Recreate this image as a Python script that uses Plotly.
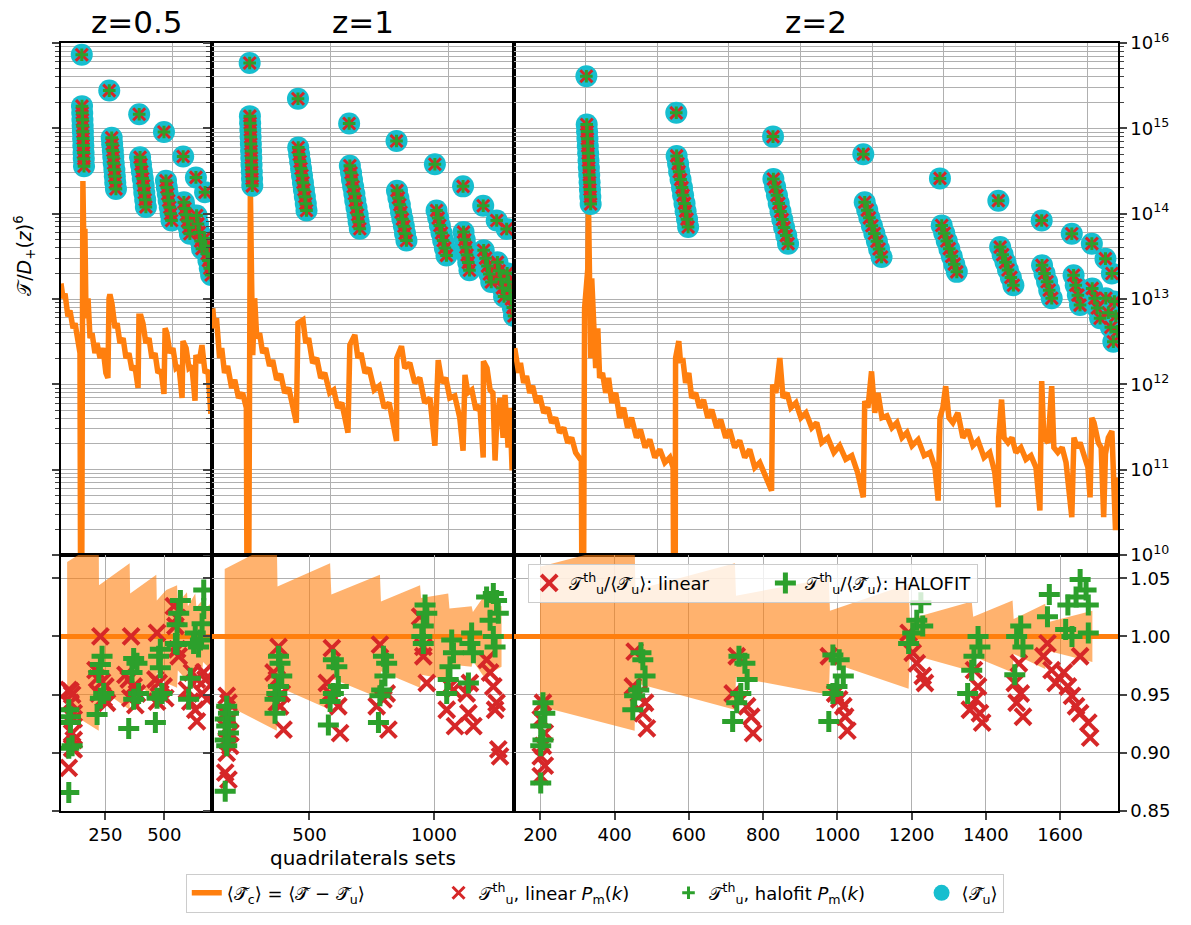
import plotly.graph_objects as go

ORANGE = '#ff7f0e'; RED = '#d62728'; GREEN = '#2ca02c'; CYAN = '#17becf'
GRID = '#b0b0b0'
FONT = 'DejaVu Sans, Noto Sans, sans-serif'

# ---------------- top row: <T_c> (orange line) ----------------
tc_x_05 = [0, 9, 18, 31, 40, 54, 63, 76, 85, 90, 94, 98, 103, 107, 112, 121, 130, 139, 152, 161, 175, 188, 201, 210,
           215, 219, 228, 242, 251, 264, 278, 291, 304, 318, 331, 345, 349, 358, 367, 380, 394, 407, 421, 434, 448, 461,
           466, 474, 488, 501, 515, 528, 542, 546, 560, 573, 586, 600, 604, 618, 631, 645, 658, 671]
tc_y_05 = [1.52e13, 1.02e13, 1.16e13, 6.27e12, 7.36e12, 4.54e12, 5.20e12, 3.04e12, 2.32e12, 1e7, 1.02e13, 2.41e14,
           2.97e13, 6.65e13, 5.94e12, 1.02e13, 3.47e12, 3.97e12, 2.32e12, 3.04e12, 2.03e12, 2.66e12, 1.36e12, 1.19e12,
           1.02e13, 1.13e13, 8.89e12, 4.54e12, 5.20e12, 3.04e12, 3.47e12, 2.03e12, 2.32e12, 1.47e12, 1.64e12, 9.08e11,
           6.27e12, 6.27e12, 5.20e12, 3.04e12, 3.47e12, 2.03e12, 2.32e12, 1.36e12, 1.47e12, 7.73e11,
           4.54e12, 3.97e12, 2.32e12, 2.66e12, 1.55e12, 1.64e12, 6.94e11, 3.21e12, 2.66e12, 1.55e12, 1.64e12, 6.41e11,
           2.20e12, 1.78e12, 2.88e12, 1.36e12, 1.47e12, 4.52e11]

tc_x_1 = [3, 11, 19, 32, 41, 53, 66, 83, 96, 112, 129, 145, 151, 159, 162, 167, 172, 180, 189, 201, 214, 227, 243, 256,
          273, 290, 307, 324, 341, 356, 363, 384, 396, 408, 425, 442, 459, 476, 497, 514, 531, 548, 574, 582, 603, 616,
          629, 646, 663, 685, 706, 727, 748, 779, 780, 800, 814, 835, 856, 877, 898, 920, 941, 948, 955, 971, 987, 1004,
          1025, 1046, 1060, 1068, 1080, 1097, 1114, 1131, 1145, 1146, 1161, 1174, 1186, 1195, 1203, 1216, 1229, 1237,
          1250, 1258, 1267]
tc_y_1 = [7.77e12, 4.54e12, 5.94e12, 2.03e12, 2.66e12, 1.36e12, 1.64e12, 9.08e11, 1.13e12, 6.94e11, 7.94e11, 5.31e11,
          1e7, 1.02e13, 1.95e14, 1.74e13, 2.20e12, 1.02e13, 3.47e12, 3.97e12, 2.32e12, 2.66e12, 1.64e12, 1.92e12,
          1.13e12, 1.32e12, 7.94e11, 9.08e11, 5.31e11, 3.55e11, 5.20e12, 5.68e12, 3.04e12, 3.47e12, 1.78e12, 2.03e12,
          1.19e12, 1.36e12, 7.94e11, 8.61e11, 5.31e11, 6.07e11, 2.72e11, 2.90e12, 3.80e12, 2.03e12,
          2.32e12, 1.36e12, 1.55e12, 8.61e11, 9.58e11, 5.31e11, 6.07e11, 2.17e11, 2.03e12, 2.80e12, 1.55e12, 1.78e12,
          1.04e12, 1.19e12, 6.07e11, 6.94e11, 1.91e11, 1.29e12, 1.92e12, 1.04e12, 1.19e12, 6.94e11,
          7.32e11, 4.06e11, 1.67e11, 1.29e12, 7.94e11, 8.61e11, 5.03e11, 5.60e11, 1.39e11, 1.87e12, 1.55e12, 8.61e11,
          7.94e11, 1.28e11, 4.06e11, 6.94e11, 2.37e11, 7.53e11, 1.82e11, 5.31e11, 9.79e10]

tc_x_2 = [2, 7, 13, 18, 27, 35, 44, 52, 63, 72, 83, 94, 105, 116, 127, 139, 150, 161, 172, 188, 192, 197, 200, 206, 208,
          211, 214, 217, 222, 228, 234, 239, 247, 256, 264, 273, 284, 295, 306, 317, 328, 342, 353, 366, 379, 393, 407,
          421, 435, 444, 449, 451, 460, 465, 471, 479, 488, 496, 507, 518, 529, 541, 552, 566, 577, 591, 602, 616, 630,
          644, 658, 672, 686, 700, 719, 722, 731, 742, 751, 762, 773, 787, 801, 815, 831, 845, 859, 876, 893, 909, 926,
          943, 959, 975, 979, 988, 998, 1007, 1016, 1027, 1041, 1055, 1069, 1083, 1097, 1111, 1128, 1145, 1161, 1175,
          1184, 1189, 1197, 1205, 1214, 1225, 1239, 1253, 1267, 1281, 1295, 1312, 1328, 1342, 1352, 1353, 1361, 1368,
          1379, 1390, 1401, 1415, 1429, 1443, 1457, 1468, 1473, 1479, 1491, 1501, 1507, 1518, 1530, 1541, 1557, 1563,
          1572, 1580, 1591, 1602, 1608, 1613, 1619, 1631, 1639, 1646, 1651, 1659, 1669, 1673, 1679, 1685]
tc_y_2 = [2.66e12, 2.03e12, 1.36e12, 1.78e12, 1.04e12, 1.25e12, 7.94e11, 9.58e11, 6.07e11, 7.32e11, 4.64e11, 5.31e11,
          3.55e11, 4.06e11, 2.72e11, 3.10e11, 2.07e11, 2.37e11, 1.59e11, 1.27e11, 1e7, 7.77e12, 1.02e13, 2.27e13,
          1.24e14, 1.02e13, 2.03e12, 1.74e13, 4.54e12, 1.55e12, 4.54e12, 1.19e12, 1.36e12, 7.94e11, 1.19e12, 6.07e11,
          7.94e11, 4.06e11, 5.31e11, 3.10e11, 4.06e11, 2.37e11, 2.94e11, 1.82e11, 2.25e11, 1.39e11, 1.72e11, 1.21e11,
          1.39e11, 1.06e11, 1e7, 2.03e12, 3.21e12, 1.78e12, 2.03e12, 1.04e12, 1.36e12, 6.94e11, 7.94e11, 5.31e11,
          6.58e11, 4.06e11, 5.03e11, 3.10e11, 3.85e11, 2.37e11, 2.94e11, 1.82e11, 2.19e11, 1.39e11, 1.72e11, 1.06e11,
          1.21e11, 8.56e10, 5.67e10, 9.92e11, 7.94e11, 2.03e12, 6.94e11, 7.94e11, 5.31e11, 6.07e11, 4.06e11, 4.64e11,
          3.10e11, 3.55e11, 2.07e11, 2.37e11, 1.59e11, 1.91e11, 1.32e11, 1.46e11, 9.28e10, 4.74e10, 6.35e11, 5.31e11,
          1.42e12, 4.64e11, 7.94e11, 4.06e11, 4.28e11, 3.10e11, 3.55e11, 2.37e11, 2.72e11, 1.91e11, 2.25e11, 1.46e11,
          1.59e11, 1.06e11, 4.34e10, 4.06e11, 5.31e11, 9.51e11, 4.06e11, 3.55e11, 4.64e11, 2.37e11, 2.94e11, 1.91e11,
          2.19e11, 1.39e11, 1.59e11, 9.28e10, 3.62e10, 2.37e11, 6.63e11, 2.37e11, 2.07e11, 2.37e11, 1.59e11, 1.82e11,
          1.32e11, 1.46e11, 1.06e11, 3.32e10, 1.09e12, 2.37e11, 2.07e11, 9.51e11, 1.82e11, 1.59e11, 1.82e11, 1.21e11,
          2.77e10, 2.37e11, 1.82e11, 2.07e11, 1.39e11, 1.06e11, 4.74e10, 4.06e11, 3.55e11, 2.07e11, 1.82e11, 2.77e10,
          1.52e11, 2.37e11, 2.84e11, 1.06e11, 1.96e10, 8.11e10]

# ---------------- top row: <T_u> (cyan), theory linear (red x), halofit (green +) ----------------
tu_x_05 = [93, 94, 95, 96, 97, 98, 99, 100, 101, 102, 103, 216, 227, 229, 232, 234, 236, 239, 241, 243, 246,
           350, 354, 358, 362, 366, 370, 373, 377, 380, 461, 470, 474, 478, 482, 487, 491, 495,
           547, 550, 555, 561, 566, 572, 577, 604, 607, 613, 619, 625, 631, 645, 642, 648, 654, 660, 666, 672]
tu_y_05 = [7.28e15, 1.82e15, 1.51e15, 1.26e15, 1.07e15, 9.1e14, 7.6e14, 6.3e14, 5.2e14, 4.4e14, 3.6e14,
           2.77e15, 7.76e14, 6.53e14, 5.50e14, 4.62e14, 3.89e14, 3.27e14, 2.75e14, 2.32e14, 1.95e14,
           1.46e15, 4.57e14, 3.78e14, 3.12e14, 2.58e14, 2.13e14, 1.76e14, 1.46e14, 1.20e14,
           9.06e14, 2.43e14, 2.03e14, 1.70e14, 1.42e14, 1.19e14, 9.95e13, 8.32e13,
           4.68e14, 1.36e14, 1.15e14, 9.68e13, 8.18e13, 6.90e13, 5.82e13,
           2.66e14, 9.51e13, 7.59e13, 6.03e13, 4.79e13, 3.89e13,
           1.78e14, 5.13e13, 4.17e13, 3.39e13, 2.82e13, 2.29e13, 1.91e13]

tu_x_1 = [159, 160, 161, 162, 163, 164, 165, 166, 167, 168, 169, 170, 363, 364, 368, 372, 376, 380, 384, 388, 392, 396,
          399, 579, 582, 587, 591, 596, 601, 605, 610, 615, 619, 624, 779, 781, 787, 793, 798, 804, 810, 815, 821,
          941, 948, 955, 962, 969, 976, 983, 990, 1060, 1062, 1067, 1072, 1077, 1082, 1087,
          1145, 1147, 1155, 1163, 1171, 1179, 1202, 1205, 1212, 1219, 1226, 1233, 1244, 1246, 1252, 1258, 1264, 1270,
          1275]
tu_y_1 = [5.83e15, 1.39e15, 1.15e15, 9.55e14, 7.91e14, 6.55e14, 5.43e14, 4.50e14, 3.73e14, 3.09e14, 2.56e14, 2.12e14,
          2.22e15, 5.96e14, 4.93e14, 4.08e14, 3.38e14, 2.80e14, 2.31e14, 1.91e14, 1.58e14, 1.31e14, 1.09e14,
          1.14e15, 3.64e14, 3.01e14, 2.49e14, 2.07e14, 1.71e14, 1.42e14, 1.17e14, 9.70e13, 8.04e13, 6.65e13,
          7.11e14, 1.86e14, 1.53e14, 1.27e14, 1.04e14, 8.63e13, 7.13e13, 5.87e13, 4.85e13,
          3.80e14, 1.09e14, 8.87e13, 7.26e13, 5.93e13, 4.84e13, 3.96e13, 3.24e13,
          2.09e14, 6.08e13, 4.95e13, 4.03e13, 3.28e13, 2.67e13, 2.17e13,
          1.24e14, 3.72e13, 3.01e13, 2.43e13, 1.96e13, 1.58e13, 8.32e13, 2.69e13, 2.14e13, 1.70e13, 1.35e13, 1.07e13,
          6.61e13, 2.0e13, 1.58e13, 1.26e13, 1.0e13, 7.94e12, 6.31e12]

tu_x_2 = [202, 203, 204, 205, 206, 207, 208, 209, 210, 211, 212, 213, 214, 453, 454, 458, 461, 465, 469, 472, 476, 479,
          483, 486, 723, 724, 729, 734, 739, 744, 749, 754, 760, 765, 975, 979, 986, 992, 999, 1006, 1013, 1019, 1026,
          1189, 1194, 1201, 1208, 1215, 1222, 1229, 1236, 1352, 1357, 1364, 1372, 1379, 1387, 1394,
          1473, 1474, 1481, 1488, 1494, 1501, 1557, 1562, 1568, 1574, 1580, 1613, 1614, 1621, 1628, 1636,
          1651, 1652, 1659, 1666, 1673, 1669, 1676, 1680, 1684]
tu_y_2 = [4.07e15, 1.11e15, 9.16e14, 7.53e14, 6.19e14, 5.09e14, 4.19e14, 3.45e14, 2.84e14, 2.33e14, 1.92e14, 1.58e14,
          1.30e14, 1.52e15, 4.75e14, 3.84e14, 3.10e14, 2.51e14, 2.02e14, 1.64e14, 1.32e14, 1.07e14, 8.63e13, 6.97e13,
          8.0e14, 2.55e14, 2.05e14, 1.64e14, 1.32e14, 1.06e14, 8.55e13, 6.87e13, 5.53e13, 4.45e13,
          4.98e14, 1.36e14, 1.10e14, 8.93e13, 7.23e13, 5.86e13, 4.74e13, 3.85e13, 3.11e13,
          2.59e14, 7.26e13, 5.90e13, 4.79e13, 3.89e13, 3.16e13, 2.56e13, 2.08e13,
          1.42e14, 4.06e13, 3.31e13, 2.69e13, 2.19e13, 1.79e13, 1.45e13,
          8.32e13, 2.48e13, 1.99e13, 1.59e13, 1.27e13, 1.02e13, 5.82e13, 1.90e13, 1.45e13, 1.11e13, 8.49e12,
          4.45e13, 1.33e13, 1.02e13, 7.84e12, 5.94e12, 2.97e13, 1.02e13, 6.89e12, 4.67e12, 3.16e12,
          1.99e13, 9.33e12, 6.31e12, 4.17e12]

# ---------------- bottom row: ratios and the <T_c>/<T_u> band ----------------
unity = 1.0
band_x_05 = [88, 222, 223, 353, 355, 466, 468, 508, 554, 557, 596, 600, 631, 636, 660, 664, 695]
band_w_05 = [0.064, 0.081, 0.044, 0.063, 0.037, 0.053, 0.031, 0.040, 0.044, 0.029, 0.038, 0.026, 0.037, 0.025, 0.031,
             0.022, 0.028]
band_x_1 = [160, 369, 372, 583, 588, 783, 787, 944, 948, 1057, 1062, 1151, 1156, 1198, 1238, 1271]
band_w_1 = [0.058, 0.081, 0.043, 0.063, 0.036, 0.053, 0.030, 0.044, 0.033, 0.037, 0.024, 0.026, 0.021, 0.034, 0.030,
            0.026]
band_x_2 = [199, 454, 456, 724, 727, 977, 980, 1192, 1195, 1362, 1366, 1472, 1475, 1560, 1564, 1687]
band_w_2 = [0.060, 0.081, 0.040, 0.063, 0.035, 0.050, 0.022, 0.045, 0.015, 0.030, 0.017, 0.031, 0.015, 0.028, 0.012,
            0.022]

lin_x_05 = [95, 102, 109, 102, 116, 116, 109, 116, 109, 116, 95, 229, 208, 215, 236, 250, 222, 243, 257,
            359, 335, 349, 370, 384, 356, 377, 469, 462, 476, 497, 483, 504, 469, 540, 554, 547, 554, 561,
            617, 638, 596, 610, 631, 638, 667, 674, 660, 681]
lin_y_05 = [0.954, 0.953, 0.950, 0.943, 0.934, 0.929, 0.917, 0.911, 0.904, 0.903, 0.887,
            1.000, 0.971, 0.964, 0.961, 0.957, 0.951, 0.947, 0.943, 1.000, 0.967, 0.963, 0.957, 0.951, 0.947, 0.941,
            1.003, 0.963, 0.960, 0.957, 0.951, 0.947, 0.944, 1.026, 1.016, 1.009, 0.989, 0.983,
            0.969, 0.963, 0.954, 0.944, 0.937, 0.927, 0.969, 0.963, 0.951, 0.946]
hf_x_05 = [95, 102, 102, 109, 95, 95, 236, 229, 222, 243, 229, 215, 370, 384, 363, 391, 370, 349,
           483, 476, 483, 490, 469, 462, 568, 561, 554, 554, 547, 631, 624, 610, 603, 667, 667, 660, 653, 645]
hf_y_05 = [0.937, 0.931, 0.926, 0.906, 0.904, 0.866, 0.983, 0.976, 0.969, 0.951, 0.947, 0.933,
           0.981, 0.977, 0.969, 0.951, 0.946, 0.921, 0.989, 0.983, 0.973, 0.951, 0.947, 0.926,
           1.031, 1.020, 1.010, 0.993, 0.994, 1.003, 0.994, 0.964, 0.946, 1.040, 1.024, 1.011, 0.997, 0.991]

lin_x_1 = [168, 175, 162, 182, 168, 182, 168, 182, 168, 162, 175, 376, 356, 369, 389, 369, 382, 396,
           590, 570, 583, 596, 616, 623, 783, 810, 797, 770, 817, 944, 957, 957, 971, 1064, 1078, 1051, 1084,
           1144, 1131, 1138, 1158, 1211, 1225, 1238, 1251, 1245, 1258, 1265]
lin_y_1 = [0.949, 0.943, 0.934, 0.929, 0.921, 0.917, 0.911, 0.906, 0.900, 0.883, 0.877,
           0.991, 0.969, 0.963, 0.951, 0.943, 0.940, 0.920, 0.990, 0.960, 0.951, 0.946, 0.940, 0.917,
           0.993, 0.951, 0.946, 0.940, 0.920, 1.017, 0.991, 0.983, 0.960, 0.957, 0.954, 0.937, 0.923,
           0.960, 0.951, 0.934, 0.923, 0.980, 0.969, 0.957, 0.943, 0.937, 0.903, 0.897]
hf_x_1 = [168, 175, 162, 168, 175, 162, 168, 162, 376, 382, 389, 376, 369, 362, 362, 596, 610, 616, 596, 583, 576,
          797, 810, 803, 790, 783, 777, 964, 971, 957, 951, 957, 1071, 1078, 1064, 1057, 1051,
          1151, 1144, 1158, 1138, 1211, 1238, 1251, 1258, 1225, 1238, 1245]
hf_y_1 = [0.940, 0.934, 0.929, 0.923, 0.917, 0.911, 0.906, 0.867, 0.983, 0.977, 0.966, 0.957, 0.951, 0.946, 0.934,
          0.980, 0.974, 0.957, 0.951, 0.944, 0.924, 0.983, 0.977, 0.966, 0.954, 0.949, 0.926,
          1.027, 1.020, 1.009, 1.000, 0.994, 0.997, 0.986, 0.974, 0.963, 0.951,
          1.003, 0.994, 0.986, 0.960, 1.034, 1.037, 1.031, 1.020, 1.014, 1.000, 0.991]

lin_x_2 = [207, 201, 212, 207, 201, 212, 201, 454, 449, 465, 482, 476, 487, 729, 718, 740, 757, 768, 773,
           977, 994, 1005, 1016, 1021, 1027, 1192, 1203, 1214, 1230, 1236, 1368, 1379, 1373, 1357, 1384, 1390,
           1489, 1478, 1494, 1483, 1500, 1566, 1555, 1577, 1610, 1654, 1588, 1621, 1632, 1643, 1654, 1676, 1681]
lin_y_2 = [0.943, 0.929, 0.917, 0.906, 0.897, 0.889, 0.880, 0.987, 0.957, 0.951, 0.943, 0.934, 0.921,
           0.983, 0.951, 0.946, 0.940, 0.931, 0.917, 0.983, 0.951, 0.946, 0.940, 0.931, 0.919,
           1.003, 0.986, 0.977, 0.966, 0.960, 0.971, 0.957, 0.946, 0.937, 0.934, 0.926,
           0.977, 0.960, 0.951, 0.943, 0.931, 0.994, 0.983, 0.971, 0.969, 0.983, 0.960, 0.957, 0.949, 0.940, 0.934,
           0.926, 0.913]
hf_x_2 = [207, 212, 201, 207, 201, 201, 471, 476, 482, 465, 454, 449, 735, 751, 757, 740, 729, 718,
          988, 1005, 1016, 999, 988, 977, 1225, 1214, 1230, 1203, 1192, 1379, 1384, 1368, 1362, 1351,
          1494, 1483, 1500, 1478, 1571, 1566, 1621, 1643, 1654, 1670, 1676, 1676, 1615, 1632]
hf_y_2 = [0.943, 0.934, 0.923, 0.911, 0.906, 0.874, 0.986, 0.980, 0.966, 0.954, 0.949, 0.937,
          0.983, 0.977, 0.963, 0.951, 0.943, 0.927, 0.984, 0.980, 0.966, 0.957, 0.951, 0.927,
          1.029, 1.014, 1.009, 1.003, 0.994, 1.000, 0.991, 0.983, 0.971, 0.951,
          1.009, 1.000, 0.991, 0.967, 1.036, 1.017, 1.027, 1.034, 1.049, 1.040, 1.027, 1.003, 1.006, 1.000]

titles = ['z=0.5', 'z=1', 'z=2']
top_ticks_x = [[0, 500], [0, 500, 1000], [0, 200, 400, 600, 800, 1000, 1200, 1400, 1600]]
bot_ticks_x = [[250, 500], [500, 1000], [200, 400, 600, 800, 1000, 1200, 1400, 1600]]
top_range_x = [[0, 676], [0, 1275], [0, 1686]]
bot_range_x = [[62, 702], [109, 1321], [129, 1756]]
top_tickvals_y = [1e10, 1e11, 1e12, 1e13, 1e14, 1e15, 1e16]
top_ticktext_y = ['10<sup>10</sup>', '10<sup>11</sup>', '10<sup>12</sup>', '10<sup>13</sup>', '10<sup>14</sup>',
                  '10<sup>15</sup>', '10<sup>16</sup>']
bot_tickvals_y = [0.85, 0.90, 0.95, 1.00, 1.05]

T = '\U0001D4AF'
TH = T + '\u0302'
NB = '\u00a0'
ZW = '\u200b'
lab_tc = '\u27e8' + TH + '<sub>c</sub>\u27e9 = \u27e8' + TH + ' \u2212 ' + TH + '<sub>u</sub>\u27e9' + NB * 12 + ZW
lab_lin = T + '<sup>th</sup><sub>u</sub>, linear <i>P</i><sub>m</sub>(<i>k</i>)' + NB * 6 + ZW
lab_hf = T + '<sup>th</sup><sub>u</sub>, halofit <i>P</i><sub>m</sub>(<i>k</i>)' + NB * 9 + ZW
lab_tu = '\u27e8' + TH + '<sub>u</sub>\u27e9'
lab_rlin = T + '<sup>th</sup><sub>u</sub>/\u27e8' + TH + '<sub>u</sub>\u27e9: linear' + NB * 9
lab_rhf = T + '<sup>th</sup><sub>u</sub>/\u27e8' + TH + '<sub>u</sub>\u27e9: HALOFIT'

fig = go.Figure()

tc_sets = [(tc_x_05, tc_y_05), (tc_x_1, tc_y_1), (tc_x_2, tc_y_2)]
tu_sets = [(tu_x_05, tu_y_05), (tu_x_1, tu_y_1), (tu_x_2, tu_y_2)]
band_sets = [(band_x_05, band_w_05), (band_x_1, band_w_1), (band_x_2, band_w_2)]
lin_sets = [(lin_x_05, lin_y_05), (lin_x_1, lin_y_1), (lin_x_2, lin_y_2)]
hf_sets = [(hf_x_05, hf_y_05), (hf_x_1, hf_y_1), (hf_x_2, hf_y_2)]

for i in range(3):
    xa = 'x' if i == 0 else 'x%d' % (i + 1)
    ya = 'y' if i == 0 else 'y%d' % (i + 1)
    first = (i == 0)
    cx, cy = tc_sets[i]
    fig.add_trace(go.Scatter(x=cx, y=cy, mode='lines', xaxis=xa, yaxis=ya,
                             line=dict(color=ORANGE, width=5.5), name=lab_tc,
                             showlegend=first, legend='legend2', legendrank=1, hoverinfo='skip'))
    ux, uy = tu_sets[i]
    fig.add_trace(go.Scatter(x=ux, y=uy, mode='markers', xaxis=xa, yaxis=ya,
                             marker=dict(color=CYAN, size=22, line=dict(width=0)), name=lab_tu,
                             showlegend=first, legend='legend2', legendrank=4, hoverinfo='skip'))
    fig.add_trace(go.Scatter(x=ux, y=uy, mode='markers', xaxis=xa, yaxis=ya,
                             marker=dict(symbol='x-thin', size=12, color=RED, line=dict(width=3, color=RED)),
                             name=lab_lin, showlegend=first, legend='legend2', legendrank=2, hoverinfo='skip'))
    fig.add_trace(go.Scatter(x=ux, y=uy, mode='markers', xaxis=xa, yaxis=ya,
                             marker=dict(symbol='cross-thin', size=9, color=GREEN, line=dict(width=3, color=GREEN)),
                             name=lab_hf, showlegend=first, legend='legend2', legendrank=3, hoverinfo='skip'))

for i in range(3):
    xa = 'x%d' % (i + 4)
    ya = 'y%d' % (i + 4)
    first = (i == 0)
    bx, bw = band_sets[i]
    upper = [unity + w for w in bw]
    lower = [unity - w for w in bw]
    fig.add_trace(go.Scatter(x=bx + bx[::-1], y=upper + lower[::-1], mode='lines', fill='toself',
                             fillcolor='rgba(255,127,14,0.6)', line=dict(width=0), xaxis=xa, yaxis=ya,
                             showlegend=False, hoverinfo='skip'))
    fig.add_trace(go.Scatter(x=bot_range_x[i], y=[unity, unity], mode='lines', xaxis=xa, yaxis=ya,
                             line=dict(color=ORANGE, width=5), showlegend=False, hoverinfo='skip'))
    lx, ly = lin_sets[i]
    fig.add_trace(go.Scatter(x=lx, y=ly, mode='markers', xaxis=xa, yaxis=ya,
                             marker=dict(symbol='x-thin', size=16, color=RED, line=dict(width=4, color=RED)),
                             name=lab_rlin, showlegend=first, legend='legend', hoverinfo='skip'))
    hx, hy = hf_sets[i]
    fig.add_trace(go.Scatter(x=hx, y=hy, mode='markers', xaxis=xa, yaxis=ya,
                             marker=dict(symbol='cross-thin', size=15, color=GREEN, line=dict(width=5, color=GREEN)),
                             name=lab_rhf, showlegend=first, legend='legend', hoverinfo='skip'))

domains_x = [[0, 1 / 7], [1 / 7, 3 / 7], [3 / 7, 1]]
axis_common = dict(showline=True, linecolor='black', linewidth=1.5, mirror=True, gridcolor=GRID, gridwidth=1,
                   zeroline=False, tickfont=dict(family=FONT, size=18, color='black'))
layout = dict(width=1191, height=925, margin=dict(l=61, r=73, t=43, b=109), paper_bgcolor='white',
              plot_bgcolor='white', font=dict(family=FONT, color='black'))
minor_vals = [k * 10 ** n for n in range(10, 16) for k in range(2, 10)]
for i in range(3):
    # top row
    xk = 'xaxis' if i == 0 else 'xaxis%d' % (i + 1)
    yk = 'yaxis' if i == 0 else 'yaxis%d' % (i + 1)
    ya = 'y' if i == 0 else 'y%d' % (i + 1)
    xa = 'x' if i == 0 else 'x%d' % (i + 1)
    layout[xk] = dict(axis_common, domain=domains_x[i], anchor=ya, range=top_range_x[i], tickmode='array',
                      tickvals=top_ticks_x[i], showticklabels=False, ticks='', showgrid=True)
    layout[yk] = dict(axis_common, domain=[1 / 3, 1], anchor=xa, type='log', range=[10, 16], tickmode='array',
                      tickvals=top_tickvals_y, ticktext=top_ticktext_y, showticklabels=(i == 2),
                      side='right' if i == 2 else 'left', ticks='outside', ticklen=7, tickwidth=1.5,
                      showgrid=True,
                      minor=dict(tickmode='array', tickvals=minor_vals, ticks='outside', ticklen=4, tickwidth=1,
                                 showgrid=True, gridcolor=GRID, gridwidth=1))
    # bottom row
    xk = 'xaxis%d' % (i + 4)
    yk = 'yaxis%d' % (i + 4)
    layout[xk] = dict(axis_common, domain=domains_x[i], anchor='y%d' % (i + 4), range=bot_range_x[i],
                      tickmode='array', tickvals=bot_ticks_x[i], ticks='outside', ticklen=7, tickwidth=1.5,
                      showgrid=True)
    layout[yk] = dict(axis_common, domain=[0, 1 / 3], anchor='x%d' % (i + 4), range=[0.85, 1.07],
                      tickmode='array', tickvals=bot_tickvals_y, tickformat='.2f', showticklabels=(i == 2),
                      side='right' if i == 2 else 'left', ticks='outside', ticklen=7, tickwidth=1.5,
                      showgrid=True)

layout['legend'] = dict(orientation='h', x=0.442, y=0.322, xanchor='left', yanchor='top',
                        bgcolor='rgba(255,255,255,0.8)', bordercolor='#cccccc', borderwidth=1,
                        font=dict(family=FONT, size=18, color='black'))
layout['legend2'] = dict(orientation='h', x=0.505, y=-0.0815, xanchor='center', yanchor='top',
                         bgcolor='white', bordercolor='#cccccc', borderwidth=1,
                         font=dict(family=FONT, size=18, color='black'))

ann = []
centers = [1 / 14, 2 / 7, 5 / 7]
for i in range(3):
    ann.append(dict(text=titles[i], x=centers[i], y=1.027, xref='paper', yref='paper', showarrow=False,
                    xanchor='center', yanchor='middle', font=dict(family=FONT, size=31, color='black')))
ann.append(dict(text=T + '/<i>D</i><sub>+</sub>(<i>z</i>)<sup>6</sup>', x=-0.034, y=0.723, xref='paper',
                yref='paper', showarrow=False, textangle=-90, xanchor='center', yanchor='middle',
                font=dict(family=FONT, size=19, color='black')))
ann.append(dict(text='quadrilaterals sets', x=2 / 7, y=-0.061, xref='paper', yref='paper', showarrow=False,
                xanchor='center', yanchor='middle', font=dict(family=FONT, size=20, color='black')))
layout['annotations'] = ann

fig.update_layout(**layout)
fig.write_html('out.html')
